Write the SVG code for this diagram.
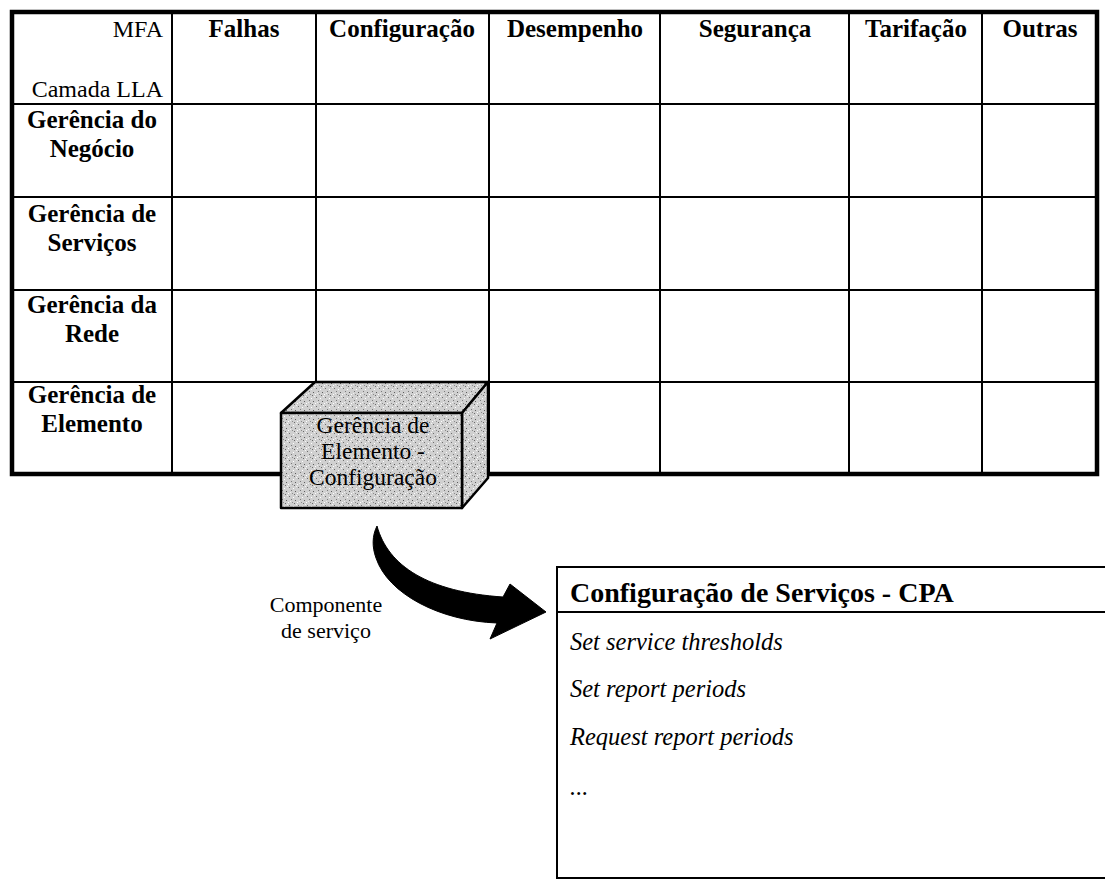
<svg xmlns="http://www.w3.org/2000/svg" width="1105" height="881" viewBox="0 0 1105 881">
<style>
  .bg { fill: #ffffff; }
  .grid { stroke: #000; stroke-width: 2; fill: none; }
  .border { stroke: #000; stroke-width: 4.5; fill: none; }
  .hd { font-family: "Liberation Serif", "Times New Roman", serif; font-size: 25px; font-weight: bold; fill: #000; text-anchor: middle; }
  .rg { font-family: "Liberation Serif", "Times New Roman", serif; font-size: 24px; fill: #000; }
  .boxt { font-family: "Liberation Serif", "Times New Roman", serif; font-size: 23.5px; fill: #000; text-anchor: middle; }
  .lbl { font-family: "Liberation Serif", "Times New Roman", serif; font-size: 22px; fill: #000; text-anchor: middle; }
  .title { font-family: "Liberation Serif", "Times New Roman", serif; font-size: 28px; font-weight: bold; fill: #000; }
  .it { font-family: "Liberation Serif", "Times New Roman", serif; font-size: 24.5px; font-style: italic; fill: #000; }
  .face { stroke: #000; stroke-width: 2.5; stroke-linejoin: round; fill: url(#stipple); }
</style>
<defs>
  <pattern id="stipple" patternUnits="userSpaceOnUse" width="9" height="9">
    <rect width="9" height="9" fill="#d0d0d0"/>
    <rect x="1" y="1" width="1" height="1" fill="#6e6e6e"/>
    <rect x="5" y="2" width="1" height="1" fill="#ffffff"/>
    <rect x="3" y="4" width="1" height="1" fill="#7a7a7a"/>
    <rect x="7" y="5" width="1" height="1" fill="#5c5c5c"/>
    <rect x="0" y="7" width="1" height="1" fill="#ffffff"/>
    <rect x="4" y="7" width="1" height="1" fill="#8a8a8a"/>
    <rect x="8" y="0" width="1" height="1" fill="#f4f4f4"/>
    <rect x="6" y="8" width="1" height="1" fill="#6a6a6a"/>
    <rect x="2" y="6" width="1" height="1" fill="#efefef"/>
  </pattern>
</defs>
<rect class="bg" x="0" y="0" width="1105" height="881"/>

<g id="table">
  <g id="grid-lines">
    <line class="grid" x1="172" y1="12" x2="172" y2="474"/>
    <line class="grid" x1="316" y1="12" x2="316" y2="474"/>
    <line class="grid" x1="489" y1="12" x2="489" y2="474"/>
    <line class="grid" x1="660" y1="12" x2="660" y2="474"/>
    <line class="grid" x1="849" y1="12" x2="849" y2="474"/>
    <line class="grid" x1="982" y1="12" x2="982" y2="474"/>
    <line class="grid" x1="12" y1="104" x2="1097" y2="104" stroke-width="2.5"/>
    <line class="grid" x1="12" y1="197" x2="1097" y2="197"/>
    <line class="grid" x1="12" y1="290" x2="1097" y2="290"/>
    <line class="grid" x1="12" y1="382" x2="1097" y2="382"/>
    <rect class="border" x="12" y="12" width="1085" height="462"/>
  </g>
  <g id="header">
    <text class="rg" x="163" y="37" text-anchor="end">MFA</text>
    <text class="rg" x="163" y="97" text-anchor="end">Camada LLA</text>
    <text class="hd" x="244" y="37">Falhas</text>
    <text class="hd" x="402" y="37">Configuração</text>
    <text class="hd" x="575" y="37">Desempenho</text>
    <text class="hd" x="755" y="37">Segurança</text>
    <text class="hd" x="916" y="37">Tarifação</text>
    <text class="hd" x="1040" y="37">Outras</text>
  </g>
  <g id="row-negocio">
    <text class="hd" x="92" y="128">Gerência do</text>
    <text class="hd" x="92" y="157">Negócio</text>
  </g>
  <g id="row-servicos">
    <text class="hd" x="92" y="222">Gerência de</text>
    <text class="hd" x="92" y="251">Serviços</text>
  </g>
  <g id="row-rede">
    <text class="hd" x="92" y="313">Gerência da</text>
    <text class="hd" x="92" y="342">Rede</text>
  </g>
  <g id="row-elemento">
    <text class="hd" x="92" y="403">Gerência de</text>
    <text class="hd" x="92" y="432">Elemento</text>
  </g>
</g>

<g id="box-ge-config">
  <polygon class="face" points="281,413 315,382 488,382 462,413"/>
  <polygon class="face" points="462,413 488,382 488,478 462,508"/>
  <rect class="face" x="281" y="413" width="181" height="95"/>
  <text class="boxt" x="373" y="433">Gerência de</text>
  <text class="boxt" x="373" y="459">Elemento -</text>
  <text class="boxt" x="373" y="485">Configuração</text>
</g>

<g id="connectors">
  <path d="M377,526 C388,566 428,592 503,597 L510,584 L546,612 L490,639 L497,623 C440,621 388,594 376,558 C372,547 372,536 377,526 Z" fill="#000" stroke="#000" stroke-width="1" stroke-linejoin="round"/>
</g>

<g id="label-componente">
  <text class="lbl" x="326" y="612">Componente</text>
  <text class="lbl" x="326" y="638">de serviço</text>
</g>

<g id="cpa-panel">
  <rect x="557" y="567" width="560" height="311" fill="#fff" stroke="#000" stroke-width="2"/>
  <line x1="557" y1="612" x2="1105" y2="612" stroke="#000" stroke-width="2"/>
  <text class="title" x="570" y="602">Configuração de Serviços - CPA</text>
  <text class="it" x="570" y="650">Set service thresholds</text>
  <text class="it" x="570" y="697">Set report periods</text>
  <text class="it" x="570" y="745">Request report periods</text>
  <text class="it" x="570" y="795">...</text>
</g>
</svg>
